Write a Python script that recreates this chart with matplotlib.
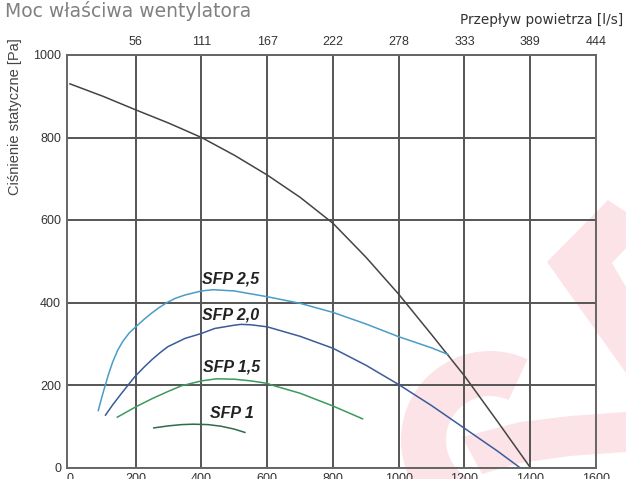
## Fan specific power chart (SFP curves) ##

import matplotlib
matplotlib.use("Agg")
from matplotlib import pyplot as plt
from matplotlib.patches import Polygon, Wedge

# Axis ticks
x_ticks = [0, 200, 400, 600, 800, 1000, 1200, 1400, 1600]
top_labels = ["", "56", "111", "167", "222", "278", "333", "389", "444"]
y_ticks = [0, 200, 400, 600, 800, 1000]

# System (fan) curve, black
sys_x = [0, 100, 200, 300, 400, 500, 600, 700, 800, 900, 1000, 1100, 1200, 1300, 1400]
sys_y = [930, 900, 867, 835, 800, 757, 709, 655, 592, 510, 420, 322, 222, 112, 0]

# SFP 2,5
sfp25_x = [86, 96, 106, 118, 130, 145, 160, 180, 200, 225, 248, 270, 293, 320, 349, 400,
           435, 500, 600, 700, 800, 900, 1000, 1100, 1150]
sfp25_y = [138, 168, 196, 228, 256, 284, 305, 326, 341, 359, 374, 387, 399, 410, 418, 428,
           431, 428, 414, 398, 376, 348, 317, 290, 274]

# SFP 2,0
sfp20_x = [108, 130, 155, 177, 197, 225, 250, 275, 298, 350, 400, 440, 500, 520, 550, 600,
           700, 800, 900, 1000, 1100, 1200, 1300, 1368]
sfp20_y = [127, 152, 178, 200, 220, 243, 262, 279, 293, 313, 325, 337, 345, 347, 346, 341,
           318, 289, 248, 201, 150, 95, 40, 0]

# SFP 1,5
sfp15_x = [144, 200, 250, 300, 339, 400, 446, 500, 550, 600, 613, 700, 800, 890]
sfp15_y = [122, 147, 167, 185, 198, 210, 215, 214, 210, 204, 200, 180, 149, 118]

# SFP 1
sfp1_x = [255, 300, 340, 375, 420, 460, 500, 532]
sfp1_y = [96, 101, 104, 105, 104, 100, 93, 85]

labels = ["SFP 2,5", "SFP 2,0", "SFP 1,5", "SFP 1"]
label_x = [402, 403, 406, 427]
label_y = [457, 370, 243, 132]

W, H = 626, 479
fig = plt.figure(figsize=(W / 100, H / 100), dpi=100)

# faint pink watermark in the background (figure pixel coords)
bg = fig.add_axes([0, 0, 1, 1], zorder=0)
bg.set_xlim(0, W); bg.set_ylim(H, 0); bg.axis("off")
pink = "#fbe3e7"
bg.add_patch(Polygon([(547, 262), (608, 200), (626, 212), (626, 248), (612, 263),
                      (626, 287), (626, 373)], closed=True, color=pink, lw=0))
bg.add_patch(Wedge((490, 440), 89, 100, 295, width=45, color=pink, lw=0))
bg.add_patch(Polygon([(462, 437), (520, 422), (570, 416), (626, 412), (626, 452),
                      (570, 456), (520, 463), (482, 474)], closed=True, color=pink, lw=0))

ax = fig.add_axes([66.7 / W, 11.5 / H, 529.3 / W, 412.5 / H], zorder=1)
ax.set_facecolor("none")

ax.plot(sys_x, sys_y, color="#444444", lw=1.1)
ax.plot(sfp25_x, sfp25_y, color="#4a9cc8", lw=1.1)
ax.plot(sfp20_x, sfp20_y, color="#3b5b9a", lw=1.1)
ax.plot(sfp15_x, sfp15_y, color="#3a9a5c", lw=1.1)
ax.plot(sfp1_x, sfp1_y, color="#2d6b4a", lw=1.1)

for t, lx, ly in zip(labels, label_x, label_y):
    ax.text(lx, ly, t, fontsize=11.5, fontweight="bold", fontstyle="italic",
            family="Liberation Sans", color="#222222", ha="left", va="center")

ax.set_xlim(-10, 1600)
ax.set_ylim(0, 1000)
ax.set_xticks(x_ticks)
ax.set_yticks(y_ticks)
ax.grid(True, color="#555555", lw=1.4)
ax.get_xgridlines()[0].set_visible(False)
for s in ax.spines.values():
    s.set_color("#666666")
    s.set_linewidth(1.4)
ax.tick_params(length=0, labelsize=9, labelcolor="#333333", pad=4)
for lab in ax.get_xticklabels() + ax.get_yticklabels():
    lab.set_family("Liberation Sans")

secax = ax.secondary_xaxis("top")
secax.set_xticks(x_ticks, labels=top_labels)
secax.tick_params(length=0, labelsize=9, labelcolor="#333333", pad=5)
secax.spines["top"].set_visible(False)
for lab in secax.get_xticklabels():
    lab.set_family("Liberation Sans")

fig.text(5 / W, 1 - 1 / H, "Moc właściwa wentylatora", fontsize=13.5, color="#808080",
         family="DejaVu Sans", ha="left", va="top")
fig.text(623 / W, 1 - 20 / H, "Przepływ powietrza [l/s]", fontsize=9.8, color="#333333",
         family="DejaVu Sans", ha="right", va="center")
fig.text(15 / W, 1 - 38 / H, "Ciśnienie statyczne [Pa]", fontsize=10.5, color="#444444",
         family="Liberation Sans", rotation=90, ha="center", va="top")

fig.savefig("out.png", dpi=100)
